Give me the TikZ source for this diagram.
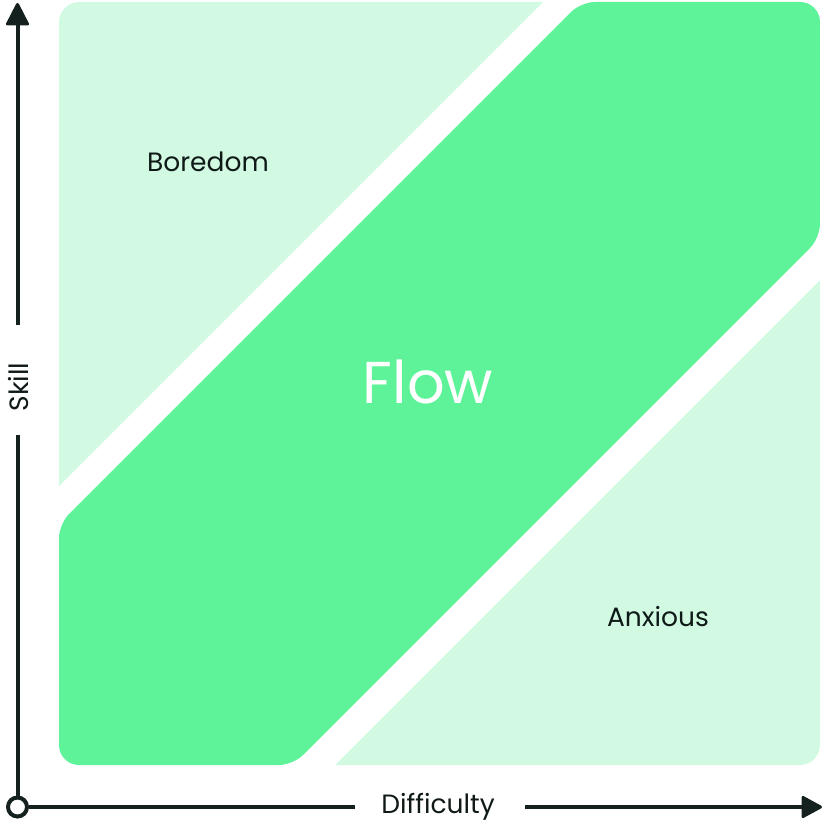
\documentclass[tikz,border=0pt]{standalone}
\usepackage{fontspec}
\setmainfont{Poppins}
\definecolor{lightmint}{HTML}{D2FAE3}
\definecolor{flowgreen}{HTML}{5EF398}
\definecolor{axisdark}{HTML}{15211F}
\definecolor{textdark}{HTML}{0F1A18}
\tikzset{
  lbl/.style={text=textdark, font=\fontsize{26.5}{30}\selectfont, inner sep=0pt, anchor=base},
  axisline/.style={draw=axisdark, line width=4pt},
  headtip/.style={fill=axisdark, draw=axisdark, line width=3pt, line join=round},
}
\begin{document}
\begin{tikzpicture}[x=1pt,y=-1pt]
\useasboundingbox (0,0) rectangle (826,826);
\begin{scope}
  \clip[rounded corners=20pt] (59,2) rectangle (820,765);
  \fill[lightmint] (59,2) -- (543,2) -- (59,486) -- cycle;
  \fill[lightmint] (820,280) -- (820,765) -- (335,765) -- cycle;
  \fill[flowgreen, rounded corners=14pt] (581,2) -- (820,2) -- (820,238) -- (293,765) -- (59,765) -- (59,524) -- cycle;
\end{scope}
\node[lbl] (boredom) at (208,172) {Boredom};
\node[lbl] (anxious) at (658,626) {Anxious};
\node[lbl, text=white, font=\fontsize{59}{64}\selectfont] (flow) at (428,403) {Flow};
\node[lbl] (difficulty) at (438,813) {Difficulty};
\node[lbl, rotate=90] (skill) at (28,387) {Skill};
\node[draw=axisdark, line width=4pt, circle, minimum size=19pt, inner sep=0pt, fill=white] (origin) at (17.5,807) {};
\coordinate (xend) at (806,807);
\coordinate (yend) at (17.5,22);
\coordinate (xgapL) at (355,807);
\coordinate (xgapR) at (525,807);
\coordinate (ygapB) at (17.5,435);
\coordinate (ygapT) at (17.5,325);
\draw[axisline] (origin.east) -- (xgapL);
\draw[axisline] (xgapR) -- (xend);
\draw[axisline] (origin.north) -- (ygapB);
\draw[axisline] (ygapT) -- (yend);
\filldraw[headtip] (xend) ++(-3,-9.5) -- ++(0,19) -- (820.5,807) -- cycle;
\filldraw[headtip] (yend) ++(-10,2) -- ++(20,0) -- (17.5,4.5) -- cycle;
\end{tikzpicture}
\end{document}
